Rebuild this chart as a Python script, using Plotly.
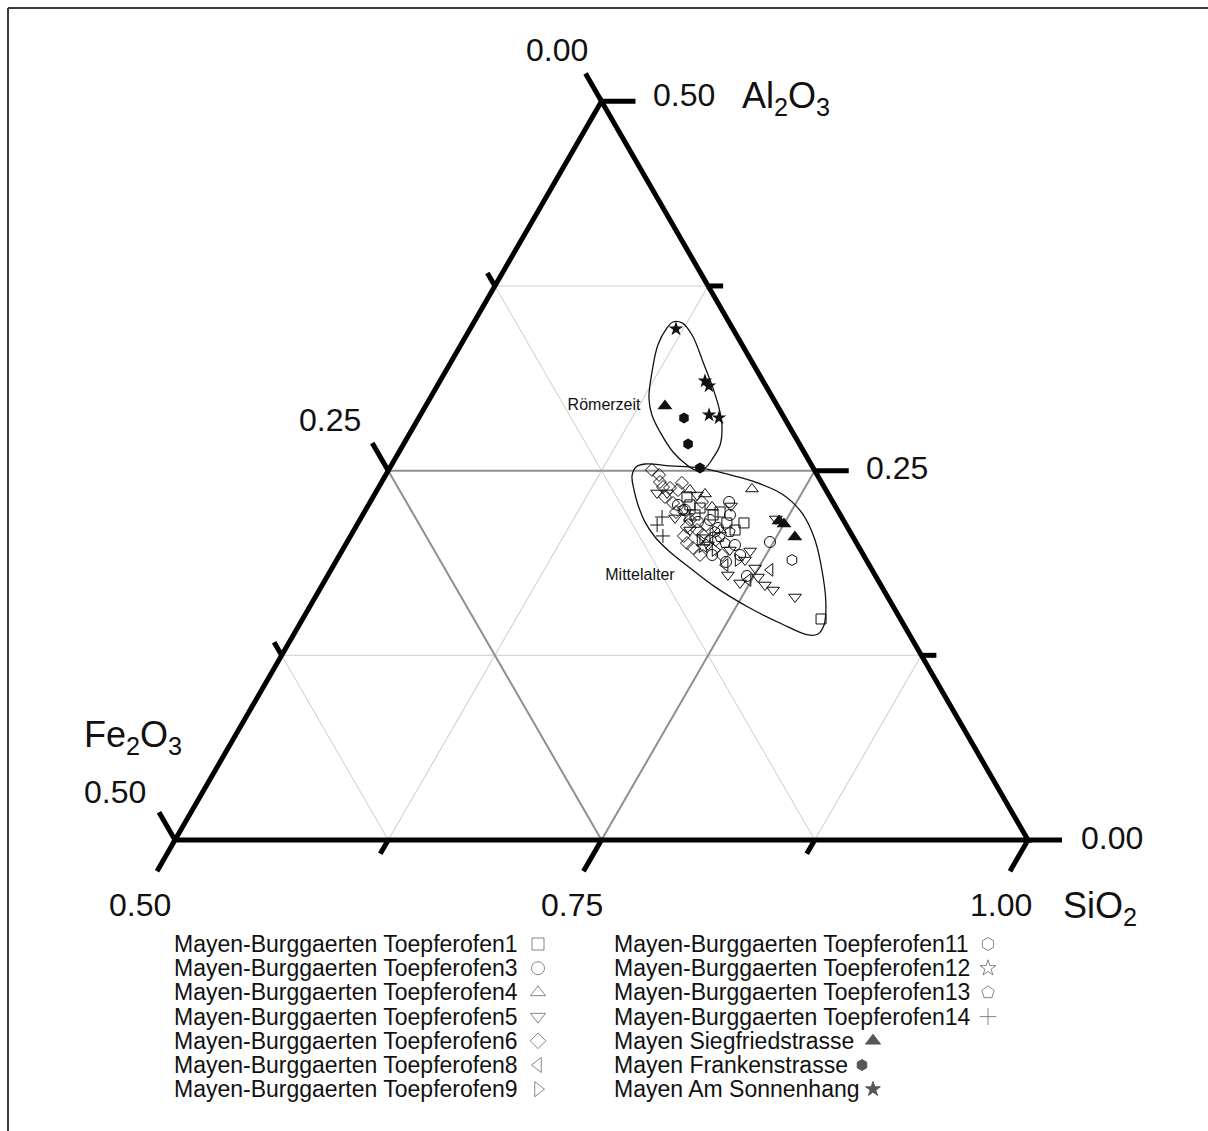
import math
import plotly.graph_objects as go

# ---------------------------------------------------------------------------
# Compositions in percent, each entry (Al2O3, Fe2O3, SiO2)
# ---------------------------------------------------------------------------
TOEPFEROFEN1 = [(14.96, 4.65, 80.39), (21.46, 5.92, 72.62), (22.47, 7.99, 69.54),
                (22.00, 7.46, 70.54), (23.22, 8.38, 68.40), (21.46, 6.92, 71.62),
                (22.68, 8.48, 68.84), (22.00, 8.52, 69.48), (22.20, 6.95, 70.85),
                (20.98, 6.68, 72.34), (20.31, 8.78, 70.91)]
TOEPFEROFEN3 = [(20.17, 5.04, 74.79), (17.87, 7.54, 74.59), (18.82, 8.29, 72.89),
                (22.88, 6.08, 71.04), (22.00, 6.47, 71.53), (22.68, 9.18, 68.14),
                (19.29, 7.23, 73.48), (22.34, 8.94, 68.72), (21.66, 7.81, 70.53),
                (21.12, 7.61, 71.27), (19.97, 7.19, 72.84), (19.29, 8.87, 71.84),
                (21.53, 8.58, 69.89)]
TOEPFEROFEN4 = [(23.76, 4.30, 71.94), (23.42, 7.22, 69.36), (20.98, 7.56, 71.46),
                (22.54, 7.25, 70.21), (23.69, 7.97, 68.34)]
TOEPFEROFEN5 = [(21.73, 3.91, 74.36), (16.45, 5.43, 78.12), (19.56, 6.51, 73.93),
                (18.41, 6.79, 74.80), (17.80, 6.92, 75.28), (17.26, 6.79, 75.95),
                (16.92, 6.48, 76.60), (17.40, 8.18, 74.42), (17.94, 8.62, 73.44),
                (22.61, 6.10, 71.29), (23.49, 10.00, 66.51), (23.49, 9.41, 67.10),
                (23.35, 7.73, 68.92), (21.80, 9.79, 68.41), (20.98, 9.32, 69.70),
                (19.97, 8.77, 71.26), (18.95, 7.11, 73.94), (19.63, 7.66, 72.71)]
TOEPFEROFEN6 = [(25.05, 9.52, 65.43), (24.71, 9.27, 66.02), (24.23, 9.46, 66.31),
                (23.89, 9.45, 66.66), (23.83, 9.07, 67.10), (24.17, 8.20, 67.63),
                (23.69, 8.67, 67.64), (22.88, 7.67, 69.45), (22.81, 9.40, 67.79),
                (21.19, 9.40, 69.41), (20.98, 8.91, 70.11), (20.65, 8.73, 70.62),
                (20.10, 9.94, 69.96), (19.77, 9.75, 70.48), (23.22, 9.67, 67.11),
                (22.20, 9.53, 68.27), (21.66, 8.98, 69.36), (21.32, 8.21, 70.47),
                (20.31, 8.14, 71.55), (19.29, 9.58, 71.13), (20.58, 9.88, 69.54),
                (19.29, 8.29, 72.42)]
TOEPFEROFEN8 = [(18.28, 5.98, 75.74), (20.44, 8.42, 71.14), (18.61, 8.45, 72.94),
                (17.60, 7.61, 74.79)]
TOEPFEROFEN9 = [(18.95, 7.52, 73.53), (19.63, 8.53, 71.84), (20.31, 9.07, 70.62)]
TOEPFEROFEN11 = [(18.95, 4.36, 76.69), (22.34, 9.06, 68.60), (20.85, 7.93, 71.22)]
TOEPFEROFEN12 = [(19.83, 9.13, 71.04), (21.93, 8.96, 69.11)]
TOEPFEROFEN13 = [(20.51, 7.80, 71.69), (20.10, 7.71, 72.19), (20.85, 7.05, 72.10)]
TOEPFEROFEN14 = [(21.86, 10.52, 67.62), (21.32, 11.08, 67.60), (20.58, 11.11, 68.31)]
SIEGFRIEDSTRASSE = [(29.38, 6.59, 64.03), (21.59, 3.80, 74.61), (21.39, 3.61, 75.00),
                    (20.51, 3.41, 76.08)]
FRANKENSTRASSE = [(28.57, 5.88, 65.55), (26.81, 6.52, 66.67), (25.18, 6.64, 68.18)]
AM_SONNENHANG = [(34.59, 3.34, 62.07), (31.07, 3.40, 65.53), (30.73, 3.34, 65.93),
                 (28.77, 4.31, 66.92), (28.57, 3.83, 67.60)]

# group outlines (Al2O3, Fe2O3, SiO2)
ROEMERZEIT_OUTLINE = [(35.06, 3.28, 61.66), (35.00, 2.78, 62.22), (34.18, 2.60, 63.22),
                      (32.36, 2.87, 64.77), (30.60, 3.17, 66.23), (28.97, 3.57, 67.46),
                      (27.89, 3.99, 68.12), (26.74, 4.68, 68.58), (25.86, 5.53, 68.61),
                      (25.18, 6.34, 68.48), (25.05, 7.00, 67.95), (25.38, 7.30, 67.32),
                      (26.26, 7.68, 66.06), (27.62, 7.76, 64.62), (28.77, 7.66, 63.57),
                      (29.92, 7.26, 62.82), (31.68, 6.20, 62.12), (33.51, 4.94, 61.55),
                      (34.66, 3.83, 61.51)]
MITTELALTER_OUTLINE = [(24.64, 10.89, 64.47), (25.25, 10.35, 64.40), (25.45, 9.72, 64.83),
                       (25.32, 8.33, 66.35), (25.18, 6.64, 68.18), (24.71, 5.11, 70.18),
                       (24.30, 4.03, 71.67), (23.42, 2.71, 73.87), (22.13, 2.18, 75.69),
                       (20.31, 2.33, 77.36), (17.80, 3.11, 79.09), (15.91, 3.89, 80.20),
                       (14.55, 4.68, 80.77), (13.94, 5.34, 80.72), (13.88, 5.96, 80.16),
                       (14.62, 7.11, 78.27), (15.77, 8.53, 75.70), (17.13, 9.78, 73.09),
                       (18.41, 10.60, 70.99), (19.49, 11.24, 69.27), (20.51, 11.61, 67.88),
                       (21.53, 11.69, 66.78), (22.68, 11.52, 65.80), (23.69, 11.25, 65.06)]
GROUP_LABELS = ["Römerzeit", "Mittelalter"]
GROUP_LABEL_POS = [(29.38, 10.16, 60.46), (17.87, 13.81, 68.32)]

# axis ranges and ticks (percent)
AL_TICKS = [0, 12.5, 25, 37.5, 50]
FE_TICKS = [0, 12.5, 25, 37.5, 50]
SI_TICKS = [50, 62.5, 75, 87.5, 100]
AL_TICK_LABELS = {0: "0.00", 25: "0.25", 50: "0.50"}
FE_TICK_LABELS = {0: "0.00", 25: "0.25", 50: "0.50"}
SI_TICK_LABELS = {50: "0.50", 75: "0.75", 100: "1.00"}
MINOR_GRID = [12.5, 37.5]
MAJOR_GRID = 25

SERIES = [
    ("Mayen-Burggaerten Toepferofen1", TOEPFEROFEN1),
    ("Mayen-Burggaerten Toepferofen3", TOEPFEROFEN3),
    ("Mayen-Burggaerten Toepferofen4", TOEPFEROFEN4),
    ("Mayen-Burggaerten Toepferofen5", TOEPFEROFEN5),
    ("Mayen-Burggaerten Toepferofen6", TOEPFEROFEN6),
    ("Mayen-Burggaerten Toepferofen8", TOEPFEROFEN8),
    ("Mayen-Burggaerten Toepferofen9", TOEPFEROFEN9),
    ("Mayen-Burggaerten Toepferofen11", TOEPFEROFEN11),
    ("Mayen-Burggaerten Toepferofen12", TOEPFEROFEN12),
    ("Mayen-Burggaerten Toepferofen13", TOEPFEROFEN13),
    ("Mayen-Burggaerten Toepferofen14", TOEPFEROFEN14),
    ("Mayen Siegfriedstrasse", SIEGFRIEDSTRASSE),
    ("Mayen Frankenstrasse", FRANKENSTRASSE),
    ("Mayen Am Sonnenhang", AM_SONNENHANG),
]

# marker style per series: (symbol, size)
STYLE = {
    "Mayen-Burggaerten Toepferofen1": ("square-open", 10),
    "Mayen-Burggaerten Toepferofen3": ("circle-open", 11),
    "Mayen-Burggaerten Toepferofen4": ("triangle-up-open", 11),
    "Mayen-Burggaerten Toepferofen5": ("triangle-down-open", 11),
    "Mayen-Burggaerten Toepferofen6": ("diamond-open", 10),
    "Mayen-Burggaerten Toepferofen8": ("triangle-left-open", 11),
    "Mayen-Burggaerten Toepferofen9": ("triangle-right-open", 11),
    "Mayen-Burggaerten Toepferofen11": ("hexagon-open", 11),
    "Mayen-Burggaerten Toepferofen12": ("star-open", 10),
    "Mayen-Burggaerten Toepferofen13": ("pentagon-open", 11),
    "Mayen-Burggaerten Toepferofen14": ("cross-thin-open", 10),
    "Mayen Siegfriedstrasse": ("triangle-up", 13),
    "Mayen Frankenstrasse": ("hexagon", 11),
    "Mayen Am Sonnenhang": ("star", 11),
}

# ---------------------------------------------------------------------------
# page geometry (pixels)
# ---------------------------------------------------------------------------
W, H = 1208, 1131
X0, Y0, SIDE = 175.0, 840.0, 853.0          # bottom-left corner and side length
HT = SIDE * math.sqrt(3) / 2
FONT = "Liberation Sans, Arial, sans-serif"


def tern_px(al, fe):
    """pixel position of a composition inside the zoomed triangle"""
    fa, fb = al / 50.0, fe / 50.0
    fc = 1.0 - fa - fb
    return X0 + fa * SIDE / 2 + fc * SIDE, Y0 - fa * HT


def paper(x, y):
    return x / W, 1 - y / H


fig = go.Figure()

grid_axis = dict(showticklabels=False, ticks="", showline=False, showgrid=True,
                 gridcolor="#cdcdcd", gridwidth=1.4, tickmode="array",
                 title=dict(text=""))
fig.update_layout(
    ternary=dict(
        sum=100,
        bgcolor="white",
        domain=dict(x=[X0 / W, (X0 + SIDE) / W], y=[1 - Y0 / H, 1 - (Y0 - HT) / H]),
        aaxis=dict(min=0, tickvals=MINOR_GRID, **grid_axis),
        baxis=dict(min=0, tickvals=MINOR_GRID, **grid_axis),
        caxis=dict(min=50, tickvals=[100 - v for v in MINOR_GRID[::-1]], **grid_axis),
    )
)

# darker 0.25 grid lines
g = MAJOR_GRID
major_lines = [
    ([g, g], [g, 0], [100 - 2 * g, 100 - g]),          # Al2O3 = 0.25
    ([g, 0], [g, g], [100 - 2 * g, 100 - g]),          # Fe2O3 = 0.25
    ([g, 0], [0, g], [100 - g, 100 - g]),              # SiO2 = 0.75
]
for a_, b_, c_ in major_lines:
    fig.add_trace(go.Scatterternary(a=a_, b=b_, c=c_, mode="lines",
                                    line=dict(color="#8f8f8f", width=2),
                                    hoverinfo="skip", showlegend=False))

# group outlines
for outline in (ROEMERZEIT_OUTLINE, MITTELALTER_OUTLINE):
    pts = outline + outline[:1]
    fig.add_trace(go.Scatterternary(
        a=[p[0] for p in pts], b=[p[1] for p in pts], c=[p[2] for p in pts],
        mode="lines", line=dict(color="#111111", width=1.3, shape="spline", smoothing=1),
        hoverinfo="skip", showlegend=False))

# samples
for name, pts in SERIES:
    sym, size = STYLE[name]
    filled = not sym.endswith("-open")
    fig.add_trace(go.Scatterternary(
        a=[p[0] for p in pts], b=[p[1] for p in pts], c=[p[2] for p in pts],
        mode="markers", name=name, showlegend=False, cliponaxis=False,
        marker=dict(symbol=sym, size=size, color="#111111",
                    line=dict(color="#111111", width=1 if not filled else 0))))

# group names
fig.add_trace(go.Scatterternary(
    a=[p[0] for p in GROUP_LABEL_POS], b=[p[1] for p in GROUP_LABEL_POS],
    c=[p[2] for p in GROUP_LABEL_POS], mode="text", text=GROUP_LABELS,
    textfont=dict(family=FONT, size=16, color="#111111"), hoverinfo="skip",
    showlegend=False, cliponaxis=False))

shapes = []
# triangle frame
bl, br, tp = tern_px(0, 50), tern_px(0, 0), tern_px(50, 0)
path = "M {} {} L {} {} L {} {} Z".format(*paper(*bl), *paper(*br), *paper(*tp))
shapes.append(dict(type="path", xref="paper", yref="paper", path=path,
                   line=dict(color="black", width=5), layer="above"))


def tick(x, y, dx, dy, length):
    x2, y2 = x + dx * length, y + dy * length
    p1, p2 = paper(x, y), paper(x2, y2)
    shapes.append(dict(type="line", xref="paper", yref="paper",
                       x0=p1[0], y0=p1[1], x1=p2[0], y1=p2[1],
                       line=dict(color="black", width=5), layer="above"))


S3 = math.sqrt(3) / 2
for v in AL_TICKS:                                   # right edge, horizontal ticks
    x, y = tern_px(v, 0)
    tick(x, y, 1, 0, 34 if v in AL_TICK_LABELS else 15)
for v in FE_TICKS:                                   # left edge, up-left ticks
    x, y = tern_px(50 - v, v)
    tick(x, y, -0.5, -S3, 32 if v in FE_TICK_LABELS else 15)
for v in SI_TICKS:                                   # bottom edge, down-left ticks
    x, y = tern_px(0, 100 - v)
    tick(x, y, -0.5, S3, 36 if v in SI_TICK_LABELS else 16)

# outer frame of the figure
shapes.append(dict(type="line", xref="paper", yref="paper", x0=8 / W, y0=1 - 8 / H,
                   x1=1, y1=1 - 8 / H, line=dict(color="#3a3a3a", width=2)))
shapes.append(dict(type="line", xref="paper", yref="paper", x0=8 / W, y0=1 - 8 / H,
                   x1=8 / W, y1=0, line=dict(color="#3a3a3a", width=2)))

annotations = []


def label(x, y, text, size, anchor="center"):
    px, py = paper(x, y)
    annotations.append(dict(x=px, y=py, xref="paper", yref="paper", text=text,
                            showarrow=False, xanchor=anchor, yanchor="middle",
                            font=dict(family=FONT, size=size, color="#111111")))


# tick labels
al_pos = {0: (1112, 838), 25: (897, 468), 50: (684, 95)}
fe_pos = {0: (557, 50), 25: (330, 420), 50: (115, 792)}
si_pos = {50: (140, 905), 75: (572, 905), 100: (1001, 905)}
for v, t in AL_TICK_LABELS.items():
    label(*al_pos[v], t, 32)
for v, t in FE_TICK_LABELS.items():
    label(*fe_pos[v], t, 32)
for v, t in SI_TICK_LABELS.items():
    label(*si_pos[v], t, 32)

# axis titles
label(740, 98, "Al<sub>2</sub>O<sub>3</sub>", 36, "left")
label(82, 737, "Fe<sub>2</sub>O<sub>3</sub>", 36, "left")
label(1061, 908, "SiO<sub>2</sub>", 36, "left")

# legend: text followed by the symbol, two columns
LEG_ROW0, LEG_DY = 944, 24.2
col_x = [172, 612]
sym_x = [538, 538, 538, 538, 538, 538, 538, 988, 988, 988, 988, 873, 862, 873]
leg_x, leg_y, leg_sym, leg_size, leg_col = [], [], [], [], []
for i, (name, _) in enumerate(SERIES):
    col, row = divmod(i, 7)
    y = LEG_ROW0 + row * LEG_DY
    label(col_x[col], y, name, 23, "left")
    sym, size = STYLE[name]
    leg_x.append(sym_x[i])
    leg_y.append(y)
    leg_sym.append(sym)
    filled = not sym.endswith("-open")
    leg_size.append(size + 2 if not filled else size)
    leg_col.append("#111111" if filled else "#555555")

fig.add_trace(go.Scatter(x=leg_x, y=leg_y, mode="markers", showlegend=False,
                         hoverinfo="skip", cliponaxis=False,
                         marker=dict(symbol=leg_sym, size=leg_size, color=leg_col,
                                     line=dict(color=leg_col, width=1))))

fig.update_layout(
    width=W, height=H, autosize=False,
    margin=dict(l=0, r=0, t=0, b=0, pad=0),
    paper_bgcolor="white", plot_bgcolor="rgba(0,0,0,0)",
    showlegend=False,
    xaxis=dict(range=[0, W], domain=[0, 1], visible=False, fixedrange=True),
    yaxis=dict(range=[H, 0], domain=[0, 1], visible=False, fixedrange=True),
    shapes=shapes, annotations=annotations,
)

fig.write_html("out.html")
